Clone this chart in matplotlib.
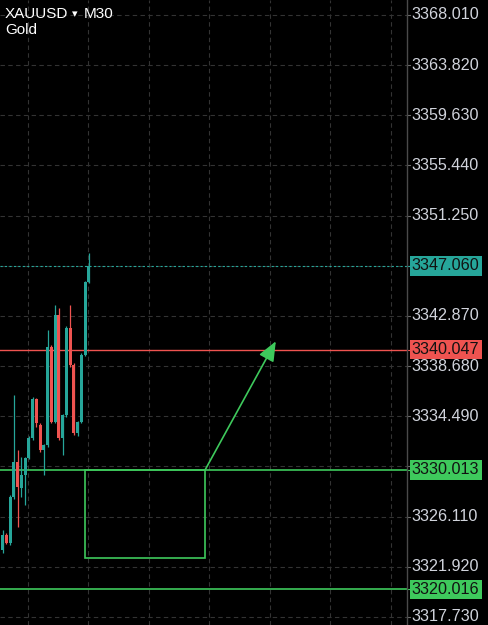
import matplotlib.pyplot as plt
import matplotlib.transforms as mtransforms
from matplotlib.patches import Rectangle

# 蜡烛数据 (M30)
opens = [3323.31, 3324.57, 3323.90, 3327.74, 3330.67, 3328.49, 3329.58, 3331.00,
         3332.67, 3335.93, 3333.76, 3331.67, 3332.09, 3340.27, 3334.01, 3342.95,
         3332.67, 3334.59, 3341.86, 3338.77, 3333.09, 3334.01, 3339.61, 3345.70]
closes = [3324.57, 3323.90, 3327.74, 3330.67, 3328.58, 3329.58, 3331.00, 3332.67,
          3335.93, 3333.92, 3331.67, 3332.09, 3340.27, 3334.01, 3342.95, 3332.67,
          3334.59, 3341.86, 3338.77, 3333.09, 3334.01, 3339.61, 3345.70, 3347.06]
highs = [3324.99, 3324.70, 3327.90, 3336.26, 3331.67, 3331.08, 3331.10, 3332.80,
         3336.10, 3336.00, 3333.90, 3332.20, 3341.69, 3340.40, 3343.78, 3343.53,
         3334.70, 3342.00, 3343.78, 3338.90, 3334.10, 3339.80, 3345.80, 3348.13]
lows = [3323.06, 3323.80, 3323.70, 3327.60, 3325.24, 3327.74, 3327.07, 3330.90,
        3332.50, 3333.59, 3331.50, 3329.58, 3331.90, 3333.90, 3333.90, 3332.50,
        3331.25, 3334.40, 3338.60, 3332.90, 3332.80, 3333.90, 3339.50, 3345.60]

# 价格刻度
tick_prices = [3368.010, 3363.820, 3359.630, 3355.440, 3351.250, 3347.060, 3342.870,
               3338.680, 3334.490, 3330.300, 3326.110, 3321.920, 3317.730]
hidden_ticks = [3347.060, 3330.300]
grid_x = [6.8, 22.8, 38.9, 55.0, 71.1, 87.2, 103.3]

# 水平线 / 标记
last_price = 3347.060
red_level = 3340.047
green_levels = [3330.013, 3320.016]
box_x = [21.9, 53.9]
box_y = [3322.65, 3330.013]
arrow_end = (72.7, 3340.75)

up_color = '#26a69a'
down_color = '#ef5350'
green = '#3ec95c'
text_color = '#d1d4dc'

fig = plt.figure(figsize=(4.89, 6.25), dpi=100, facecolor='black')
ax = fig.add_axes([0, 0, 407 / 489, 1])
ax.set_facecolor('black')
ax.set_xlim(-0.67, 107.6)
ax.set_ylim(3317.05, 3369.26)

# 网格
for p in tick_prices:
    ax.axhline(p, color='#333333', linestyle=(0, (4, 3)), linewidth=0.8, zorder=0)
for gx in grid_x:
    ax.axvline(gx, color='#333333', linestyle=(0, (4, 3)), linewidth=0.8, zorder=0)

# 蜡烛
for i in range(len(opens)):
    c = up_color if closes[i] >= opens[i] else down_color
    ax.vlines(i, lows[i], highs[i], color=c, linewidth=0.9, zorder=3)
    lo, hi = min(opens[i], closes[i]), max(opens[i], closes[i])
    ax.add_patch(Rectangle((i - 0.4, lo), 0.8, max(hi - lo, 0.08),
                           facecolor=c, edgecolor='none', zorder=4))

# 水平线
ax.axhline(last_price, color=up_color, linestyle=(0, (2, 2)), linewidth=0.8, zorder=2)
ax.axhline(red_level, color=down_color, linewidth=1.0, zorder=2)
for g in green_levels:
    ax.axhline(g, color=green, linewidth=1.2, zorder=2)

# 方框和箭头
ax.add_patch(Rectangle((box_x[0], box_y[0]), box_x[1] - box_x[0], box_y[1] - box_y[0],
                       facecolor='none', edgecolor=green, linewidth=1.2, zorder=5))
ax.annotate('', xy=arrow_end, xytext=(box_x[1], box_y[1]),
            arrowprops=dict(arrowstyle='-|>,head_length=0.6,head_width=0.25', color=green,
                            lw=1.2, mutation_scale=20, shrinkA=0, shrinkB=0), zorder=6)

ax.set_xticks([])
ax.set_yticks([])
for s in ['top', 'left', 'bottom']:
    ax.spines[s].set_visible(False)
ax.spines['right'].set_color('#4a4a4a')
ax.spines['right'].set_linewidth(1.0)

trans = mtransforms.blended_transform_factory(ax.transAxes, ax.transData)
fonts = ['Liberation Sans', 'DejaVu Sans']

# 刻度标签
for p in tick_prices:
    ax.plot([1.0, 1.008], [p, p], color='#6a6a6a', linewidth=0.8,
            transform=trans, clip_on=False)
    if p in hidden_ticks:
        continue
    ax.text(1.012, p, f'{p:.3f}', transform=trans, ha='left', va='center',
            fontsize=11.6, color=text_color, family=fonts, clip_on=False)

# 价格标签框
def price_tag(price, bg):
    ax.plot([1.0, 1.008], [price, price], color=bg, linewidth=0.8,
            transform=trans, clip_on=False)
    ax.text(1.012, price, f'{price:.3f}', transform=trans, ha='left', va='center',
            fontsize=11.6, color='#111111', family=fonts, clip_on=False, zorder=10,
            bbox=dict(boxstyle='square,pad=0.14', facecolor=bg, edgecolor='none'))

price_tag(last_price, up_color)
price_tag(red_level, down_color)
for g in green_levels:
    price_tag(g, green)

# 标题
fig.text(5 / 489, 1 - 14 / 625, 'XAUUSD', fontsize=11, color='white',
         family=fonts, va='center', ha='left')
fig.text(72 / 489, 1 - 14 / 625, '▾', fontsize=8, color='white',
         family=['DejaVu Sans'], va='center', ha='left')
fig.text(84 / 489, 1 - 14 / 625, 'M30', fontsize=11, color='white',
         family=fonts, va='center', ha='left')
fig.text(5 / 489, 1 - 30 / 625, 'Gold', fontsize=11, color='white',
         family=fonts, va='center', ha='left')

plt.savefig('out.png', dpi=100, facecolor='black')
